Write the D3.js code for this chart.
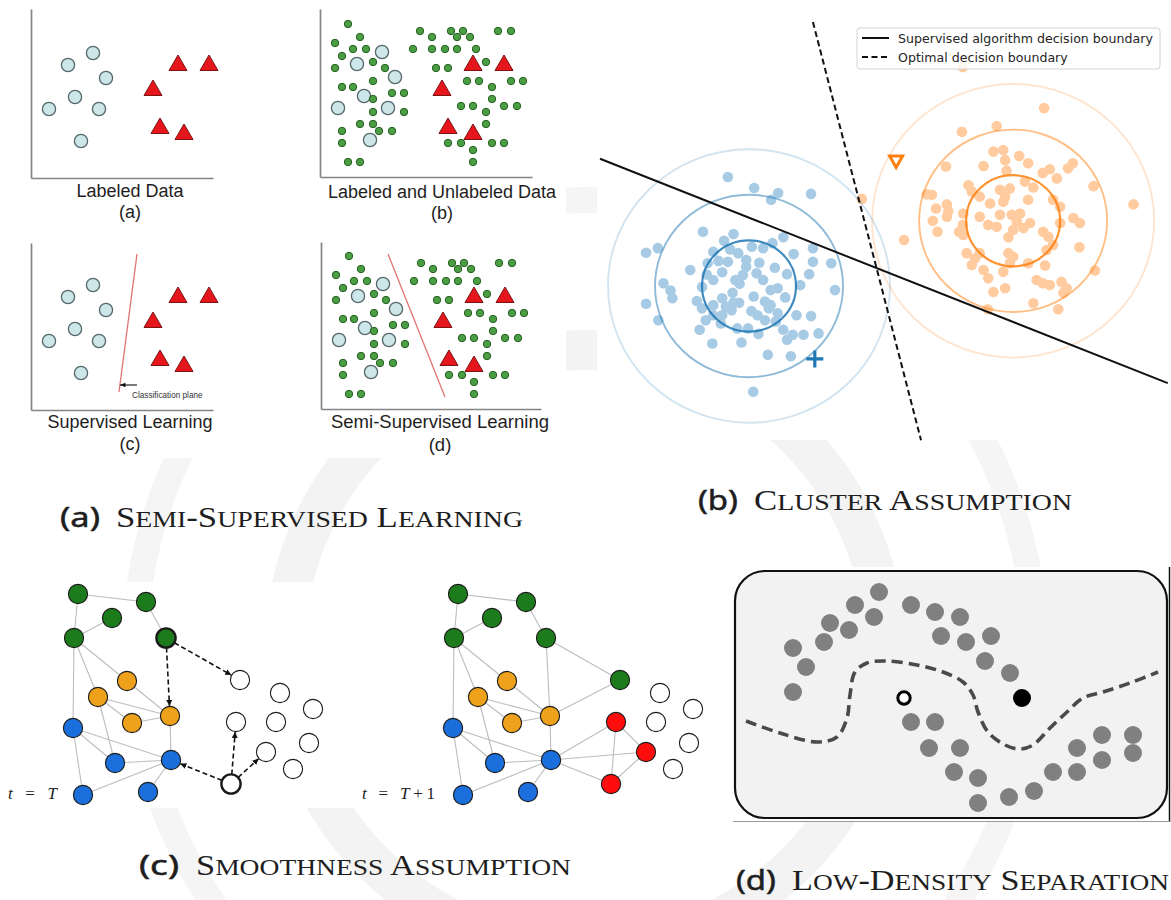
<!DOCTYPE html>
<html>
<head>
<meta charset="utf-8">
<script src="https://cdn.jsdelivr.net/npm/d3@7"></script>
<style>
  html, body { margin: 0; padding: 0; background: #ffffff; }
  svg { display: block; }
</style>
</head>
<body>
<svg id="fig" width="1171" height="900"></svg>
<script>
// ---------------- Panel (a): toy scatter plots (axis units) ----------------
const labeledCircles = [[62,125],[37,113],[75,100],[44,81],[18,69],[68,69],[50,37]];
const labeledTrianglesLeft = [[147,115],[178,115],[122,90],[129,52],[153,46]];
const labeledTrianglesRight = [[153,114],[184,114],[122,89],[128,51],[153,45]];
const unlabeledDots = [
  [28,153],[40,140],[15,134],[33,128],[46,128],[22,121],[53,115],[15,109],[65,109],[53,96],
  [22,90],[33,90],[72,84],[84,84],[53,78],[53,65],[84,65],[40,53],[53,53],[22,46],[59,46],
  [72,46],[22,34],[28,15],[40,15],
  [100,146],[112,140],[131,146],[143,146],[137,140],[150,140],[178,146],[191,146],[93,128],
  [112,128],[125,128],[137,128],[156,128],[166,115],[116,109],[128,109],[147,96],[159,96],
  [191,96],[203,96],[172,90],[172,78],[141,71],[153,71],[184,71],[197,71],[166,65],[166,53],
  [128,34],[141,34],[172,34],[184,34],[153,27],[153,15]
];
const subplotTitles = ["Labeled Data", "Labeled and Unlabeled Data", "Supervised Learning", "Semi-Supervised Learning"];
const subplotTags = ["(a)", "(b)", "(c)", "(d)"];
const supervisedPlane = [[106,156],[88,18]];
const semiSupervisedPlane = [[67,155],[124,12]];
const planeNote = "Classification plane";

// ---------------- Panel (b): two Gaussian clusters (data units) ----------------
const bluePoints = [
  [-0.98,1.19],[-2.19,0.73],[-1.94,0.83],[-0.33,1.14],[-0.53,0.99],[-0.76,0.75],[-0.88,0.50],
  [-0.45,0.53],[-1.25,0.35],[-0.57,0.30],[-0.23,0.72],[-0.06,0.57],[-0.06,0.42],[0.22,0.51],
  [0.06,0.86],[0.30,0.83],[0.50,0.94],[0.73,1.07],[1.36,0.83],[1.36,0.53],[1.75,0.50],
  [1.28,0.26],[0.81,0.26],[0.16,0.28],[0.30,0.13],[-0.29,0.13],[-0.13,0.24],[-0.76,0.13],
  [-1.00,-0.02],[-1.82,0.06],[-1.67,-0.10],[-1.63,-0.27],[-2.19,-0.39],[-1.93,-0.75],
  [-1.11,-0.33],[-1.00,-0.49],[-0.76,-0.42],[-0.57,-0.27],[-0.33,-0.37],[-0.21,-0.37],
  [0.10,-0.23],[0.46,-0.09],[0.61,-0.05],[0.77,-0.25],[1.09,0.02],[1.83,-0.09],[0.34,-0.34],
  [0.42,-0.49],[0.18,-0.64],[0.34,-0.75],[-0.57,-0.64],[-0.60,-0.82],[-0.92,-0.75],
  [-1.05,-0.96],[-0.76,-0.64],[-0.25,-0.93],[-0.02,-0.93],[0.57,-0.78],[0.73,-0.96],
  [1.01,-0.64],[1.32,-0.66],[1.48,-1.04],[1.16,-1.07],[0.93,-1.07],[0.81,-1.18],
  [-0.16,-1.24],[-0.78,-1.26],[0.40,-1.51],[0.89,-1.54],[0.09,-2.32],[-0.37,-0.53],
  [-0.49,-0.45],[0.61,-0.60],[0.46,-0.42],[-0.45,2.39],[0.11,2.15],[0.62,2.04],[0.47,1.89],
  [1.32,2.02],[-0.40,0.80],[-0.20,0.05],[0.05,-0.55],[-0.90,0.25],[0.55,0.40],[-0.35,-0.15],
  [0.20,-1.05],[-0.65,0.55],[0.95,0.70]
];
const orangePoints = [
  [6.28,3.90],[4.53,3.38],[5.27,3.51],[4.19,2.62],[3.30,1.01],[8.18,1.79],[7.33,2.19],
  [7.36,0.34],[6.58,-0.51],[6.05,-0.38],[5.08,-0.51],[5.20,2.95],[5.41,2.98],[5.75,2.85],
  [5.94,2.69],[5.45,2.76],[4.99,2.63],[5.48,2.53],[6.25,2.48],[6.40,2.56],[6.79,2.58],
  [6.89,2.69],[6.55,2.36],[5.87,2.29],[6.05,2.16],[5.55,2.14],[5.34,2.11],[4.67,2.21],
  [4.74,2.07],[4.91,1.96],[5.45,1.96],[5.41,1.85],[5.94,1.89],[3.78,2.01],[3.89,2.00],
  [3.98,1.70],[4.24,1.64],[4.21,1.52],[3.91,1.43],[4.01,1.19],[4.56,1.59],[4.55,1.34],
  [4.56,1.12],[4.91,1.52],[5.13,1.81],[5.09,1.34],[5.27,1.30],[5.34,1.56],[5.59,1.56],
  [5.77,1.59],[5.70,1.41],[5.98,1.38],[5.84,1.27],[5.62,1.23],[5.52,1.07],[6.26,1.19],
  [6.37,1.08],[6.47,1.89],[6.62,1.74],[6.90,1.49],[7.04,1.38],[6.62,1.38],[6.47,0.90],
  [6.33,0.79],[7.03,0.85],[4.63,0.72],[4.81,0.61],[4.91,0.72],[4.74,0.46],[4.99,0.35],
  [5.09,0.17],[5.52,0.72],[5.62,0.64],[5.55,0.50],[5.41,0.31],[5.94,0.50],[6.30,0.45],
  [6.12,0.13],[6.25,0.06],[6.40,0.02],[6.65,0.09],[6.76,-0.05],[6.69,-0.15],[5.20,-0.13],
  [5.45,-0.05],[4.21,1.79],[4.47,1.19],[4.55,4.80],[2.40,1.91]
];
const blueCenter = [0, 0];
const orangeCenter = [5.62, 1.43];
const ringRadii = [1, 2, 3];
const supervisedBoundary = [[-3.17,2.79],[8.91,-2.13]];
const optimalBoundary = [[1.36,5.79],[3.66,-3.38]];
const blueQuery = [1.40, -1.60];
const orangeQuery = [3.13, 2.74];
const legendLabels = ["Supervised algorithm decision boundary", "Optimal decision boundary"];

// ---------------- Panel (c): label propagation on a graph ----------------
const graphNodes = [
  {id:"A", x:78,  y:24},  {id:"B", x:146, y:32},  {id:"C", x:112, y:48},
  {id:"D", x:74,  y:68},  {id:"E", x:166, y:68},  {id:"F", x:127, y:111},
  {id:"G", x:98,  y:127}, {id:"H", x:132, y:153}, {id:"I", x:170, y:146},
  {id:"J", x:73,  y:158}, {id:"K", x:115, y:193}, {id:"L", x:171, y:190},
  {id:"M", x:83,  y:225}, {id:"N", x:148, y:222}, {id:"O", x:240, y:110},
  {id:"P", x:280, y:123}, {id:"Q", x:313, y:139}, {id:"R", x:236, y:152},
  {id:"S", x:276, y:152}, {id:"T", x:266, y:182}, {id:"U", x:309, y:173},
  {id:"V", x:293, y:199}, {id:"W", x:231, y:214}
];
const classAtT  = ["g","g","g","g","g","o","o","o","o","b","b","b","b","b","u","u","u","u","u","u","u","u","u"];
const classAtT1 = ["g","g","g","g","g","o","o","o","o","b","b","b","b","b","g","u","u","r","u","r","u","u","r"];
const edgesT = [["A","B"],["A","D"],["C","D"],["B","E"],["D","F"],["D","G"],["D","J"],["F","I"],
  ["G","I"],["G","H"],["H","I"],["G","K"],["I","L"],["J","K"],["J","L"],["J","M"],["K","L"],
  ["M","L"],["N","L"]];
const newEdgesT1 = [["E","I"],["E","O"],["O","I"],["L","R"],["L","T"],["L","W"],["R","T"],["R","W"],["T","W"]];
const propagationArrows = [["E","O"],["E","I"],["W","L"],["W","R"],["W","T"]];
const classColors = {g:"#1c7c1c", o:"#eea21c", b:"#1b6fdc", r:"#ff0d0d", u:"#ffffff"};

// ---------------- Panel (d): two moons and a low-density boundary ----------------
const moonPoints = [
  [144,226],[120,213],[139,201],[95,195],[114,188],[89,176],[58,170],[71,151],[58,126],
  [176,213],[200,206],[225,201],[206,182],[231,176],[256,182],[250,157],[275,145],
  [176,96],[200,96],[194,70],[225,70],[219,46],[243,40],[243,15],[274,21],[299,27],
  [318,46],[342,46],[342,70],[367,58],[367,83],[398,83],[398,65]
];
const labeledOpen = [169, 120];
const labeledFilled = [287, 120];
const densityBoundary = [
  [11,97],[45,85],[82,76],[102,81],[112,100],[115,123],[120,146],[132,155],[152,157],
  [182,153],[208,146],[228,136],[238,123],[243,106],[253,86],[270,73],[285,69],[298,73],
  [315,90],[332,106],[348,120],[368,126],[395,135],[423,146]
];

// ---------------- Captions ----------------
const captionTags = ["(a)", "(b)", "(c)", "(d)"];
const captionTitles = ["Semi-Supervised Learning", "Cluster Assumption", "Smoothness Assumption", "Low-Density Separation"];

// =====================================================================
const svg = d3.select("#fig");

// faint emblem in the page background
const wm = svg.append("g");
wm.append("circle").attr("cx", 585).attr("cy", 650).attr("r", 300)
  .attr("fill", "none").attr("stroke", "#f3f3f3").attr("stroke-width", 40);
wm.append("circle").attr("cx", 585).attr("cy", 650).attr("r", 450)
  .attr("fill", "none").attr("stroke", "#f5f5f5").attr("stroke-width", 26);

// ---------- panel (a) ----------
svg.append("rect").attr("x", 0).attr("y", 0).attr("width", 566).attr("height", 458).attr("fill", "#fff");

const defs = svg.append("defs");
defs.append("marker").attr("id", "headSmall").attr("viewBox", "0 0 10 10")
  .attr("refX", 10).attr("refY", 5).attr("markerWidth", 5).attr("markerHeight", 5)
  .attr("orient", "auto").append("path").attr("d", "M0,1 L10,5 L0,9 Z").attr("fill", "#111");
defs.append("marker").attr("id", "headGraph").attr("viewBox", "0 0 10 10")
  .attr("refX", 10).attr("refY", 5).attr("markerWidth", 6).attr("markerHeight", 6)
  .attr("markerUnits", "userSpaceOnUse")
  .attr("orient", "auto").append("path").attr("d", "M0,0 L10,5 L0,10 Z").attr("fill", "#111");

const subplots = [
  {ox:31,  oy:178, w:182, h:169, cx:130, tri:labeledTrianglesLeft,  dots:false, plane:null, ty:[197,218], fs:18},
  {ox:320, oy:177, w:212, h:168, cx:442, tri:labeledTrianglesRight, dots:true,  plane:null, ty:[198,219], fs:18},
  {ox:31,  oy:410, w:182, h:167, cx:130, tri:labeledTrianglesLeft,  dots:false, plane:supervisedPlane, ty:[428,450], fs:18},
  {ox:321, oy:409, w:220, h:167, cx:440, tri:labeledTrianglesRight, dots:true,  plane:semiSupervisedPlane, ty:[428,451], fs:18.5}
];

const trianglePath = (cx, cy) => d3.line()([[cx - 9, cy + 7.5], [cx, cy - 8], [cx + 9, cy + 7.5]]) + "Z";

subplots.forEach((sp, i) => {
  const g = svg.append("g");
  const x = d3.scaleLinear().domain([0, sp.w]).range([sp.ox, sp.ox + sp.w]);
  const y = d3.scaleLinear().domain([0, sp.h]).range([sp.oy, sp.oy - sp.h]);

  const axX = g.append("g").attr("transform", `translate(0,${sp.oy})`)
    .call(d3.axisBottom(x).tickValues([]).tickSizeOuter(0));
  const axY = g.append("g").attr("transform", `translate(${sp.ox},0)`)
    .call(d3.axisLeft(y).tickValues([]).tickSizeOuter(0));
  [axX, axY].forEach(a => a.select(".domain").attr("stroke", "#858585").attr("stroke-width", 1.7));

  if (sp.plane) {
    g.append("line")
      .attr("x1", x(sp.plane[0][0])).attr("y1", y(sp.plane[0][1]))
      .attr("x2", x(sp.plane[1][0])).attr("y2", y(sp.plane[1][1]))
      .attr("stroke", "#e27373").attr("stroke-width", 1.3);
  }

  g.selectAll("circle.lab").data(labeledCircles).join("circle")
    .attr("cx", d => x(d[0])).attr("cy", d => y(d[1])).attr("r", 6.6)
    .attr("fill", "#cde6ea").attr("stroke", "#56676a").attr("stroke-width", 1.3);

  if (sp.dots) {
    g.selectAll("circle.unl").data(unlabeledDots).join("circle")
      .attr("cx", d => x(d[0])).attr("cy", d => y(d[1])).attr("r", 3.7)
      .attr("fill", "#4c9e44").attr("stroke", "#24601f").attr("stroke-width", 1);
  }

  g.selectAll("path.tri").data(sp.tri).join("path")
    .attr("d", d => trianglePath(x(d[0]), y(d[1])))
    .attr("fill", "#e5161c").attr("stroke", "#7c1212").attr("stroke-width", 1);

  if (i === 2) {
    g.append("line").attr("x1", x(106)).attr("y1", y(25)).attr("x2", x(89)).attr("y2", y(25))
      .attr("stroke", "#111").attr("stroke-width", 1.1).attr("marker-end", "url(#headSmall)");
    g.append("text").attr("x", x(101)).attr("y", y(12)).text(planeNote)
      .attr("font-family", "Liberation Sans, Arial, sans-serif").attr("font-size", 8.2).attr("fill", "#333");
  }

  g.append("text").attr("x", sp.cx).attr("y", sp.ty[0]).attr("text-anchor", "middle")
    .attr("font-family", "Liberation Sans, Arial, sans-serif").attr("font-size", sp.fs)
    .attr("fill", "#1e1e1e").text(subplotTitles[i]);
  g.append("text").attr("x", sp.cx).attr("y", sp.ty[1]).attr("text-anchor", "middle")
    .attr("font-family", "Liberation Sans, Arial, sans-serif").attr("font-size", sp.fs)
    .attr("fill", "#1e1e1e").text(subplotTags[i]);
});

// ---------- panel (b) ----------
svg.append("rect").attr("x", 597).attr("y", 0).attr("width", 574).attr("height", 440).attr("fill", "#fff");
const gb = svg.append("g");
const xB = d3.scaleLinear().domain([0, 1]).range([749, 796]);
const yB = d3.scaleLinear().domain([0, 1]).range([286, 240.4]);

gb.selectAll("circle.bp").data(bluePoints).join("circle")
  .attr("cx", d => xB(d[0])).attr("cy", d => yB(d[1])).attr("r", 5.3).attr("fill", "#a7cbe4");
gb.selectAll("circle.op").data(orangePoints).join("circle")
  .attr("cx", d => xB(d[0])).attr("cy", d => yB(d[1])).attr("r", 5.3).attr("fill", "#ffcb9f");

const ringAlpha = [0.85, 0.5, 0.2];
[[blueCenter, "#1f77b4"], [orangeCenter, "#ff7f0e"]].forEach(([c, col]) => {
  gb.selectAll(null).data(ringRadii).join("ellipse")
    .attr("cx", xB(c[0])).attr("cy", yB(c[1]))
    .attr("rx", r => xB(r) - xB(0)).attr("ry", r => yB(0) - yB(r))
    .attr("fill", "none").attr("stroke", col).attr("stroke-width", (r, i) => i === 0 ? 2.2 : 1.9)
    .attr("stroke-opacity", (r, i) => ringAlpha[i]);
});

// query markers
const bq = [xB(blueQuery[0]), yB(blueQuery[1])];
gb.append("path").attr("d", `M${bq[0] - 8.5},${bq[1]} H${bq[0] + 8.5} M${bq[0]},${bq[1] - 8.5} V${bq[1] + 8.5}`)
  .attr("stroke", "#1f77b4").attr("stroke-width", 3.2).attr("fill", "none");
const oq = [xB(orangeQuery[0]), yB(orangeQuery[1])];
gb.append("path").attr("d", d3.line()([[oq[0] - 6.5, oq[1] - 5], [oq[0] + 6.5, oq[1] - 5], [oq[0], oq[1] + 6.5]]) + "Z")
  .attr("stroke", "#ff7f0e").attr("stroke-width", 3).attr("fill", "#fff").attr("stroke-linejoin", "miter");

const lineB = d3.line().x(d => xB(d[0])).y(d => yB(d[1]));
gb.append("path").attr("d", lineB(supervisedBoundary)).attr("stroke", "#111").attr("stroke-width", 2).attr("fill", "none");
gb.append("path").attr("d", lineB(optimalBoundary)).attr("stroke", "#111").attr("stroke-width", 2)
  .attr("stroke-dasharray", "6,3.5").attr("fill", "none");

// legend
const lg = gb.append("g");
lg.append("rect").attr("x", 857).attr("y", 28).attr("width", 303).attr("height", 41).attr("rx", 3)
  .attr("fill", "#fff").attr("fill-opacity", 0.85).attr("stroke", "#d2d2d2").attr("stroke-width", 1);
legendLabels.forEach((lab, i) => {
  const yy = 38 + i * 19;
  lg.append("line").attr("x1", 862).attr("x2", 889).attr("y1", yy).attr("y2", yy)
    .attr("stroke", "#111").attr("stroke-width", 2).attr("stroke-dasharray", i === 1 ? "6,3.5" : null);
  lg.append("text").attr("x", 898).attr("y", yy + 4.5).text(lab)
    .attr("font-family", "DejaVu Sans, sans-serif").attr("font-size", 12.6).attr("fill", "#262626");
});

// ---------- panel (c) ----------
svg.append("rect").attr("x", 0).attr("y", 582).attr("width", 708).attr("height", 226).attr("fill", "#fff");
const byId = new Map(graphNodes.map(n => [n.id, n]));
const graphs = [
  {offset: 0,   classes: classAtT,  edges: edgesT, arrows: propagationArrows, lx: 8,   lw: 49,
   label: [["t", true], [" = ", false], ["T", true]]},
  {offset: 380, classes: classAtT1, edges: edgesT.concat(newEdgesT1), arrows: [], lx: 362, lw: 73,
   label: [["t", true], [" = ", false], ["T", true], ["+1", false]]}
];
const nodeR = 9.6;
graphs.forEach(gr => {
  const g = svg.append("g");
  const x = d3.scaleLinear().domain([0, 350]).range([gr.offset, gr.offset + 350]);
  const y = d3.scaleLinear().domain([0, 240]).range([570, 810]);

  g.selectAll("line.edge").data(gr.edges).join("line")
    .attr("x1", d => x(byId.get(d[0]).x)).attr("y1", d => y(byId.get(d[0]).y))
    .attr("x2", d => x(byId.get(d[1]).x)).attr("y2", d => y(byId.get(d[1]).y))
    .attr("stroke", "#bdbdbd").attr("stroke-width", 1.1);

  g.selectAll("line.arrow").data(gr.arrows).join("line")
    .each(function (d) {
      const s = byId.get(d[0]), t = byId.get(d[1]);
      const sx = x(s.x), sy = y(s.y), tx = x(t.x), ty = y(t.y);
      const len = Math.hypot(tx - sx, ty - sy), ux = (tx - sx) / len, uy = (ty - sy) / len;
      d3.select(this)
        .attr("x1", sx + ux * nodeR).attr("y1", sy + uy * nodeR)
        .attr("x2", tx - ux * (nodeR + 0.5)).attr("y2", ty - uy * (nodeR + 0.5));
    })
    .attr("stroke", "#111").attr("stroke-width", 1.6).attr("stroke-dasharray", "5,3")
    .attr("marker-end", "url(#headGraph)");

  const sources = new Set(gr.arrows.map(a => a[0]));
  g.selectAll("circle.node").data(graphNodes).join("circle")
    .attr("cx", d => x(d.x)).attr("cy", d => y(d.y)).attr("r", nodeR)
    .attr("fill", (d, i) => classColors[gr.classes[i]])
    .attr("stroke", "#1a1a1a").attr("stroke-width", d => sources.has(d.id) ? 2.4 : 1.1);

  const t = g.append("text").attr("x", gr.lx).attr("y", 799)
    .attr("font-family", "Liberation Serif, Times New Roman, serif").attr("font-size", 17).attr("fill", "#222")
    .attr("xml:space", "preserve").attr("textLength", gr.lw).attr("lengthAdjust", "spacing");
  gr.label.forEach(([s, it]) => t.append("tspan").attr("font-style", it ? "italic" : "normal").text(s));
});

// ---------- panel (d) ----------
svg.append("rect").attr("x", 733).attr("y", 567).attr("width", 438).attr("height", 255).attr("fill", "#fff");
const gd = svg.append("g");
const xD = d3.scaleLinear().domain([0, 432]).range([735, 1167]);
const yD = d3.scaleLinear().domain([0, 247]).range([818, 571]);
gd.append("rect").attr("x", xD(0)).attr("y", yD(247)).attr("width", xD(432) - xD(0)).attr("height", yD(0) - yD(247))
  .attr("rx", 30).attr("fill", "#f2f2f2").attr("stroke", "#111").attr("stroke-width", 2.2);
gd.append("line").attr("x1", 1169.5).attr("x2", 1169.5).attr("y1", 567).attr("y2", 822).attr("stroke", "#111").attr("stroke-width", 1.5);
gd.append("line").attr("x1", 733).attr("x2", 1171).attr("y1", 821.5).attr("y2", 821.5).attr("stroke", "#9a9a9a").attr("stroke-width", 1);

gd.append("path").attr("d", d3.line().x(d => xD(d[0])).y(d => yD(d[1])).curve(d3.curveCatmullRom)(densityBoundary))
  .attr("fill", "none").attr("stroke", "#4a4a4a").attr("stroke-width", 3.6).attr("stroke-dasharray", "11,6");
gd.selectAll("circle.moon").data(moonPoints).join("circle")
  .attr("cx", d => xD(d[0])).attr("cy", d => yD(d[1])).attr("r", 9).attr("fill", "#808080");
gd.append("circle").attr("cx", xD(labeledOpen[0])).attr("cy", yD(labeledOpen[1])).attr("r", 6.2)
  .attr("fill", "#fff").attr("stroke", "#000").attr("stroke-width", 3);
gd.append("circle").attr("cx", xD(labeledFilled[0])).attr("cy", yD(labeledFilled[1])).attr("r", 9).attr("fill", "#000");

// ---------- captions ----------
const captionLayout = [
  {tx: 60,  x0: 116, x1: 523,  y: 527},
  {tx: 698, x0: 754, x1: 1072, y: 510},
  {tx: 139, x0: 196, x1: 571,  y: 875},
  {tx: 736, x0: 792, x1: 1169, y: 890}
];
captionLayout.forEach((c, i) => {
  svg.append("text").attr("x", c.tx).attr("y", c.y).text(captionTags[i])
    .attr("font-family", "Noto Sans, DejaVu Sans, sans-serif").attr("font-size", 28).attr("font-weight", 400)
    .attr("fill", "#1e1e1e").attr("stroke", "#1e1e1e").attr("stroke-width", 0.5)
    .attr("textLength", 40).attr("lengthAdjust", "spacingAndGlyphs");
  const t = svg.append("text").attr("x", c.x0).attr("y", c.y)
    .attr("font-family", "Liberation Serif, Times New Roman, serif").attr("fill", "#1e1e1e")
    .attr("textLength", c.x1 - c.x0).attr("lengthAdjust", "spacingAndGlyphs");
  // small caps: capitals keep full size, lowercase letters become reduced capitals
  const runs = [];
  for (const ch of captionTitles[i]) {
    const small = ch !== ch.toUpperCase();
    if (runs.length && runs[runs.length - 1].small === small) runs[runs.length - 1].s += ch;
    else runs.push({small, s: ch});
  }
  runs.forEach(r => t.append("tspan").attr("font-size", r.small ? 24 : 30).text(r.small ? r.s.toUpperCase() : r.s));
});
</script>
</body>
</html>
